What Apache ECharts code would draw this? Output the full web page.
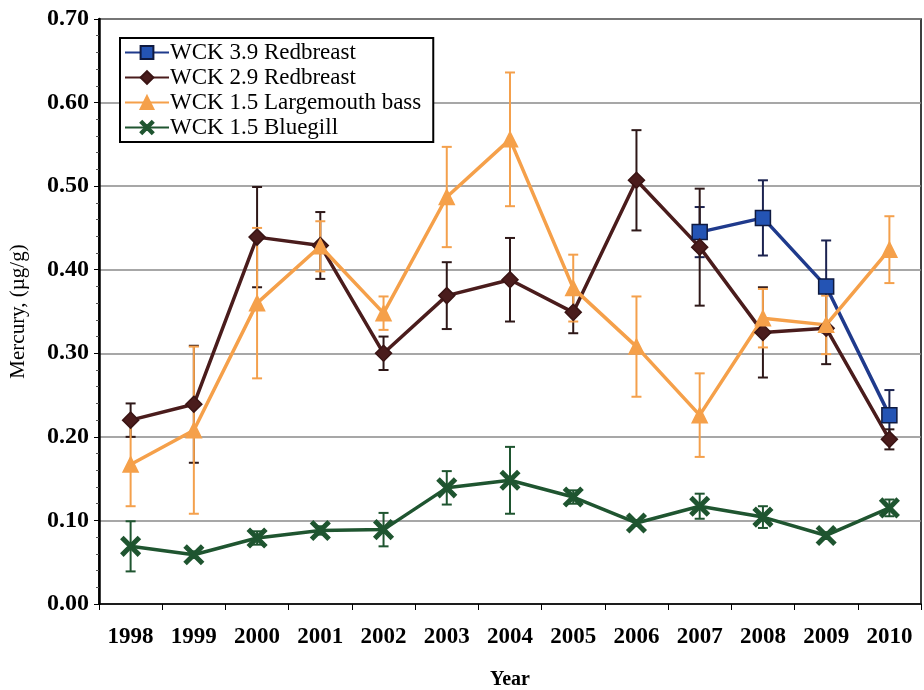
<!DOCTYPE html>
<html>
<head>
<meta charset="utf-8">
<script src="https://cdn.jsdelivr.net/npm/echarts@6/dist/echarts.min.js"></script>
<style>
  html, body { margin: 0; padding: 0; background: #ffffff; }
  #chart { width: 924px; height: 690px; }
</style>
</head>
<body>
<div id="chart"></div>
<script>
// Mercury concentrations in fish by sampling year
const years = ['1998','1999','2000','2001','2002','2003','2004','2005','2006','2007','2008','2009','2010'];

const wck39Redbreast    = [null, null, null, null, null, null, null, null, null, 0.445, 0.462, 0.380, 0.226];
const wck39RedbreastErr = [null, null, null, null, null, null, null, null, null, 0.030, 0.045, 0.055, 0.030];

const wck29Redbreast    = [0.220, 0.239, 0.439, 0.429, 0.300, 0.369, 0.388, 0.349, 0.507, 0.427, 0.325, 0.330, 0.197];
const wck29RedbreastErr = [0.020, 0.070, 0.060, 0.040, 0.020, 0.040, 0.050, 0.025, 0.060, 0.070, 0.054, 0.043, 0.012];

const wck15Largemouth    = [0.167, 0.208, 0.360, 0.428, 0.348, 0.487, 0.556, 0.378, 0.308, 0.226, 0.342, 0.334, 0.424];
const wck15LargemouthErr = [0.050, 0.100, 0.090, 0.030, 0.020, 0.060, 0.080, 0.040, 0.060, 0.050, 0.035, 0.035, 0.040];

const wck15Bluegill    = [0.069, 0.059, 0.079, 0.088, 0.089, 0.139, 0.148, 0.128, 0.097, 0.117, 0.104, 0.082, 0.115];
const wck15BluegillErr = [0.030, 0.004, 0.008, 0.005, 0.020, 0.020, 0.040, 0.008, 0.003, 0.015, 0.013, 0.004, 0.010];

const SERIF = '"Liberation Serif", "Times New Roman", serif';
const X_MARK = 'path://M0,1.3 L1.3,0 L5,3.7 L8.7,0 L10,1.3 L6.3,5 L10,8.7 L8.7,10 L5,6.3 L1.3,10 L0,8.7 L3.7,5 Z';

// Vertical error bar with end caps, drawn per category
function errorBars(name, values, errs, color) {
  const data = [];
  values.forEach((v, i) => {
    if (v != null && errs[i] != null) data.push([i, v, errs[i]]);
  });
  return {
    name: name,
    type: 'custom',
    z: 1,
    silent: true,
    renderItem: function (params, api) {
      const i = api.value(0), v = api.value(1), e = api.value(2);
      const top = api.coord([i, v + e]);
      const bot = api.coord([i, v - e]);
      const cap = 5;
      const style = { stroke: color, lineWidth: 2 };
      return {
        type: 'group',
        children: [
          { type: 'line', shape: { x1: top[0], y1: top[1], x2: bot[0], y2: bot[1] }, style: style },
          { type: 'line', shape: { x1: top[0] - cap, y1: top[1], x2: top[0] + cap, y2: top[1] }, style: style },
          { type: 'line', shape: { x1: bot[0] - cap, y1: bot[1], x2: bot[0] + cap, y2: bot[1] }, style: style }
        ]
      };
    },
    data: data
  };
}

function lineSeries(name, values, color, symbol, size, fill, border) {
  return {
    name: name,
    type: 'line',
    z: 3,
    data: values,
    connectNulls: false,
    symbol: symbol,
    symbolSize: size,
    lineStyle: { color: color, width: 3.5 },
    itemStyle: { color: fill, borderColor: border, borderWidth: 1.5 }
  };
}

const chart = echarts.init(document.getElementById('chart'));
chart.setOption({
  backgroundColor: '#ffffff',
  animation: false,
  grid: {
    left: 99, right: 3, top: 19, bottom: 86,
    outerBoundsMode: 'none',
    containLabel: false,
    show: true, borderColor: '#000000', borderWidth: 1.5, backgroundColor: 'transparent'
  },
  legend: {
    data: ['WCK 3.9 Redbreast', 'WCK 2.9 Redbreast', 'WCK 1.5 Largemouth bass', 'WCK 1.5 Bluegill'],
    orient: 'vertical',
    left: 120, top: 38,
    backgroundColor: '#ffffff',
    borderColor: '#000000', borderWidth: 2,
    padding: [3, 12, 3, 4],
    itemGap: 2,
    itemWidth: 44, itemHeight: 16,
    textStyle: { fontFamily: SERIF, fontSize: 23, color: '#000000', padding: [0, 0, 0, -4] }
  },
  xAxis: {
    type: 'category',
    data: years,
    boundaryGap: true,
    name: 'Year',
    nameLocation: 'middle',
    nameGap: 66,
    nameTextStyle: { fontFamily: SERIF, fontSize: 20, fontWeight: 'bold', color: '#000000' },
    axisLine: { lineStyle: { color: '#000000', width: 1.5 } },
    axisTick: { show: true, inside: false, length: 6, lineStyle: { color: '#000000' } },
    axisLabel: { fontFamily: SERIF, fontSize: 23, fontWeight: 'bold', color: '#000000', margin: 22 },
    splitLine: { show: false }
  },
  yAxis: {
    type: 'value',
    min: 0, max: 0.7, interval: 0.1,
    name: 'Mercury, (µg/g)',
    nameLocation: 'middle',
    nameGap: 70,
    nameTextStyle: { fontFamily: SERIF, fontSize: 21, color: '#000000' },
    axisLine: { show: true, lineStyle: { color: '#000000', width: 2.5 } },
    axisTick: { show: true, inside: false, length: 5, lineStyle: { color: '#000000' } },
    minorTick: { show: true, splitNumber: 5, length: 3, lineStyle: { color: '#555555' } },
    axisLabel: {
      fontFamily: SERIF, fontSize: 24, fontWeight: 'bold', color: '#000000', margin: 10,
      formatter: v => v.toFixed(2)
    },
    splitLine: { show: true, lineStyle: { color: '#8a8a8a', width: 1.5 } }
  },
  series: [
    errorBars('err39', wck39Redbreast, wck39RedbreastErr, '#1c2350'),
    errorBars('err29', wck29Redbreast, wck29RedbreastErr, '#2e1818'),
    errorBars('err15lmb', wck15Largemouth, wck15LargemouthErr, '#f4a04c'),
    errorBars('err15bg', wck15Bluegill, wck15BluegillErr, '#1f5530'),
    lineSeries('WCK 3.9 Redbreast', wck39Redbreast, '#1f3a8c', 'rect', 15, '#2454b4', '#0f1a40'),
    lineSeries('WCK 2.9 Redbreast', wck29Redbreast, '#4a1c1c', 'diamond', 16, '#4a1c1c', '#3a1414'),
    lineSeries('WCK 1.5 Largemouth bass', wck15Largemouth, '#f5a04a', 'triangle', 15, '#f5a04a', '#f5a04a'),
    lineSeries('WCK 1.5 Bluegill', wck15Bluegill, '#1f5530', X_MARK, 19, '#1f5530', '#1f5530')
  ]
});
</script>
</body>
</html>
